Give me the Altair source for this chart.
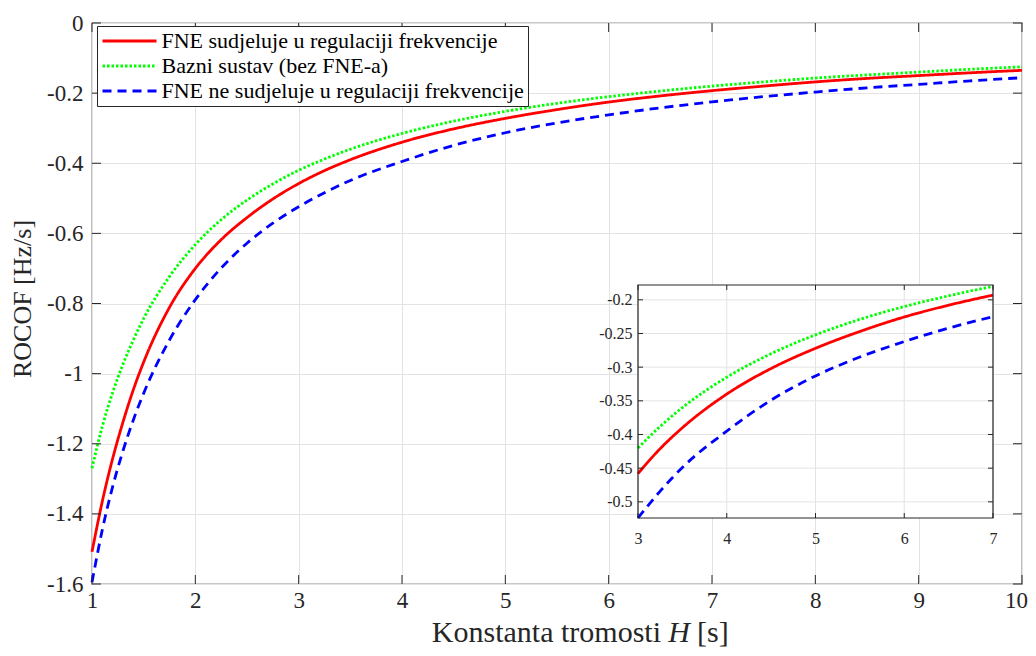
import altair as alt
import pandas as pd

# ---------------- data ----------------
S1 = "FNE sudjeluje u regulaciji frekvencije"
S2 = "Bazni sustav (bez FNE-a)"
S3 = "FNE ne sudjeluje u regulaciji frekvencije"
series_names = [S1, S2, S3]
series_colors = ["#ff0000", "#00ff00", "#0000ff"]
series_dash = [[1, 0], [2.5, 2], [9, 6]]

H = [1.0, 1.1, 1.2, 1.3, 1.4, 1.5, 1.75, 2.0, 2.25, 2.5, 2.75, 3.0, 3.25, 3.5,
     4.0, 4.5, 5.0, 5.5, 6.0, 6.5, 7.0, 7.5, 8.0, 8.5, 9.0, 9.5, 10.0]
rocof_red = [-1.508, -1.364, -1.242, -1.138, -1.046, -0.967, -0.811, -0.700,
             -0.618, -0.555, -0.502, -0.458, -0.421, -0.390, -0.340, -0.302,
             -0.272, -0.247, -0.2255, -0.208, -0.193, -0.180, -0.168, -0.158,
             -0.150, -0.142, -0.135]
rocof_green = [-1.27, -1.150, -1.054, -0.973, -0.904, -0.843, -0.723, -0.632,
               -0.561, -0.505, -0.459, -0.420, -0.388, -0.360, -0.315, -0.280,
               -0.252, -0.229, -0.210, -0.194, -0.180, -0.168, -0.157, -0.148,
               -0.140, -0.132, -0.125]
rocof_blue = [-1.595, -1.445, -1.322, -1.220, -1.132, -1.056, -0.904, -0.789,
              -0.699, -0.628, -0.571, -0.524, -0.484, -0.449, -0.395, -0.349,
              -0.313, -0.285, -0.262, -0.242, -0.225, -0.210, -0.197, -0.185,
              -0.175, -0.165, -0.156]

x_ticks = [1, 2, 3, 4, 5, 6, 7, 8, 9, 10]
y_ticks = [-1.6, -1.4, -1.2, -1.0, -0.8, -0.6, -0.4, -0.2, 0.0]
inset_x_ticks = [3, 4, 5, 6, 7]
inset_y_ticks = [-0.5, -0.45, -0.4, -0.35, -0.3, -0.25, -0.2]

x_title_parts = ["Konstanta tromosti", "H", "[s]"]
y_title = "ROCOF [Hz/s]"

rows = []
for name, vals in zip(series_names, [rocof_red, rocof_green, rocof_blue]):
    for h, v in zip(H, vals):
        rows.append({"H": h, "v": v, "s": name})
df = pd.DataFrame(rows)
df_in = df[(df.H >= 3) & (df.H <= 7)]
one = pd.DataFrame({"k": [0]})

# ---------------- style ----------------
FONT = "Liberation Serif"
AX = "#262626"
GRID = "#e3e3e3"
W, HT = 930, 561
IX0, IX1, IY0, IY1 = 546, 901, 262, 495  # inset box (plot-relative px)

label_expr = ("datum.value == 0 ? '0' : (datum.value < 0 ? '-' : '') + "
              "format(abs(datum.value), '~g')")

mx = alt.Scale(domain=[1, 10], nice=False, zero=False)
my = alt.Scale(domain=[-1.6, 0], nice=False, zero=False)
ix = alt.Scale(domain=[3, 7], range=[IX0, IX1], nice=False, zero=False)
iy = alt.Scale(domain=[-0.524, -0.178], range=[IY1, IY0], nice=False, zero=False)

ax_x = alt.Axis(values=x_ticks, grid=True, gridColor=GRID, gridWidth=1,
                domain=False, ticks=False, tickSize=0, labelFont=FONT,
                labelFontSize=23, labelColor=AX, labelPadding=5,
                labelFlush=False, labelOverlap=False, title=None,
                labelOffset={"condition": {"test": "datum.value == 10", "value": -6},
                             "value": 0})
ax_y = alt.Axis(values=y_ticks, grid=True, gridColor=GRID, gridWidth=1,
                domain=False, ticks=False, tickSize=0, labelFont=FONT,
                labelFontSize=23, labelColor=AX, labelPadding=9,
                labelOverlap=False, labelExpr=label_expr, title=None)
ax_ix = alt.Axis(orient="bottom", offset=-(HT - IY1), values=inset_x_ticks,
                 grid=False, domain=False, ticks=False, tickSize=0,
                 labelFont=FONT, labelFontSize=16, labelColor=AX,
                 labelPadding=12, labelFlush=False, labelOverlap=False,
                 title=None, zindex=1)
ax_iy = alt.Axis(orient="left", offset=-IX0, values=inset_y_ticks,
                 grid=False, domain=False, ticks=False, tickSize=0,
                 labelFont=FONT, labelFontSize=16, labelColor=AX,
                 labelPadding=6, labelOverlap=False, labelExpr=label_expr,
                 title=None, zindex=1)

legend = alt.Legend(title=None, orient="none", legendX=5, legendY=3,
                    symbolType="stroke", symbolSize=2916,
                    symbolStrokeWidth=2.8, clipHeight=22, labelFont=FONT,
                    labelFontSize=22, labelColor="black", labelOffset=3.5,
                    labelLimit=800, padding=4, rowPadding=3,
                    strokeColor=AX, fillColor="white", symbolOffset=0)

color = alt.Color("s:N", scale=alt.Scale(domain=series_names, range=series_colors),
                  legend=legend, sort=series_names)
dash = alt.StrokeDash("s:N", scale=alt.Scale(domain=series_names, range=series_dash),
                      legend=legend, sort=series_names)

line_kw = dict(strokeWidth=2.8, interpolate="monotone", strokeCap="butt")

# ---------------- main panel ----------------
main_lines = alt.Chart(df).mark_line(**line_kw).encode(
    x=alt.X("H:Q", scale=mx, axis=ax_x),
    y=alt.Y("v:Q", scale=my, axis=ax_y),
    color=color, strokeDash=dash,
)

tx = pd.DataFrame({"H": x_ticks})
ty = pd.DataFrame({"v": y_ticks})
rule_kw = dict(color=AX, strokeWidth=1)
tick_b = alt.Chart(tx).mark_rule(**rule_kw).encode(
    x=alt.X("H:Q", scale=mx, axis=ax_x), y=alt.value(HT), y2=alt.value(HT - 9))
tick_t = alt.Chart(tx).mark_rule(**rule_kw).encode(
    x=alt.X("H:Q", scale=mx, axis=ax_x), y=alt.value(0), y2=alt.value(9))
tick_l = alt.Chart(ty).mark_rule(**rule_kw).encode(
    y=alt.Y("v:Q", scale=my, axis=ax_y), x=alt.value(0), x2=alt.value(9))
tick_r = alt.Chart(ty).mark_rule(**rule_kw).encode(
    y=alt.Y("v:Q", scale=my, axis=ax_y), x=alt.value(W), x2=alt.value(W - 9))

txt_kw = dict(font=FONT, fontSize=30, color=AX, baseline="alphabetic")
xt1 = alt.Chart(one).mark_text(align="right", **txt_kw).encode(
    x=alt.value(569), y=alt.value(619), text=alt.value(x_title_parts[0]))
xt2 = alt.Chart(one).mark_text(align="center", fontStyle="italic", **txt_kw).encode(
    x=alt.value(587), y=alt.value(619), text=alt.value(x_title_parts[1]))
xt3 = alt.Chart(one).mark_text(align="left", **txt_kw).encode(
    x=alt.value(605), y=alt.value(619), text=alt.value(x_title_parts[2]))
yt = alt.Chart(one).mark_text(font=FONT, fontSize=26, color=AX, angle=270,
                              align="center", baseline="middle").encode(
    x=alt.value(-69), y=alt.value(276), text=alt.value(y_title))

main = alt.layer(main_lines, tick_b, tick_t, tick_l, tick_r, xt1, xt2, xt3, yt)

# ---------------- inset ----------------
bg = alt.Chart(one).mark_rect(fill="white").encode(
    x=alt.value(IX0), x2=alt.value(IX1), y=alt.value(IY0), y2=alt.value(IY1))
itx = pd.DataFrame({"H": inset_x_ticks})
ity = pd.DataFrame({"v": inset_y_ticks})
igx = alt.Chart(itx).mark_rule(color=GRID, strokeWidth=1).encode(
    x=alt.X("H:Q", scale=ix, axis=ax_ix), y=alt.value(IY0), y2=alt.value(IY1))
igy = alt.Chart(ity).mark_rule(color=GRID, strokeWidth=1).encode(
    y=alt.Y("v:Q", scale=iy, axis=ax_iy), x=alt.value(IX0), x2=alt.value(IX1))
inset_lines = alt.Chart(df_in).mark_line(**line_kw).encode(
    x=alt.X("H:Q", scale=ix, axis=ax_ix),
    y=alt.Y("v:Q", scale=iy, axis=ax_iy),
    color=color, strokeDash=dash,
)
itb = alt.Chart(itx).mark_rule(**rule_kw).encode(
    x=alt.X("H:Q", scale=ix, axis=ax_ix), y=alt.value(IY1), y2=alt.value(IY1 - 5))
itt = alt.Chart(itx).mark_rule(**rule_kw).encode(
    x=alt.X("H:Q", scale=ix, axis=ax_ix), y=alt.value(IY0), y2=alt.value(IY0 + 5))
itl = alt.Chart(ity).mark_rule(**rule_kw).encode(
    y=alt.Y("v:Q", scale=iy, axis=ax_iy), x=alt.value(IX0), x2=alt.value(IX0 + 5))
itr = alt.Chart(ity).mark_rule(**rule_kw).encode(
    y=alt.Y("v:Q", scale=iy, axis=ax_iy), x=alt.value(IX1), x2=alt.value(IX1 - 5))
border = alt.Chart(one).mark_rect(fillOpacity=0, stroke=AX, strokeWidth=1.2).encode(
    x=alt.value(IX0), x2=alt.value(IX1), y=alt.value(IY0), y2=alt.value(IY1))

inset = alt.layer(bg, igx, igy, inset_lines, itb, itt, itl, itr, border)

chart = alt.layer(main, inset).resolve_scale(
    x="independent", y="independent"
).properties(
    width=W, height=HT,
    autosize=alt.AutoSizeParams(type="none"),
    padding={"left": 84, "top": 15, "right": 6, "bottom": 64},
    background="white",
).configure_view(stroke=AX, strokeWidth=1.2)

chart.save("out.html", embed_options={"renderer": "svg", "actions": False})
